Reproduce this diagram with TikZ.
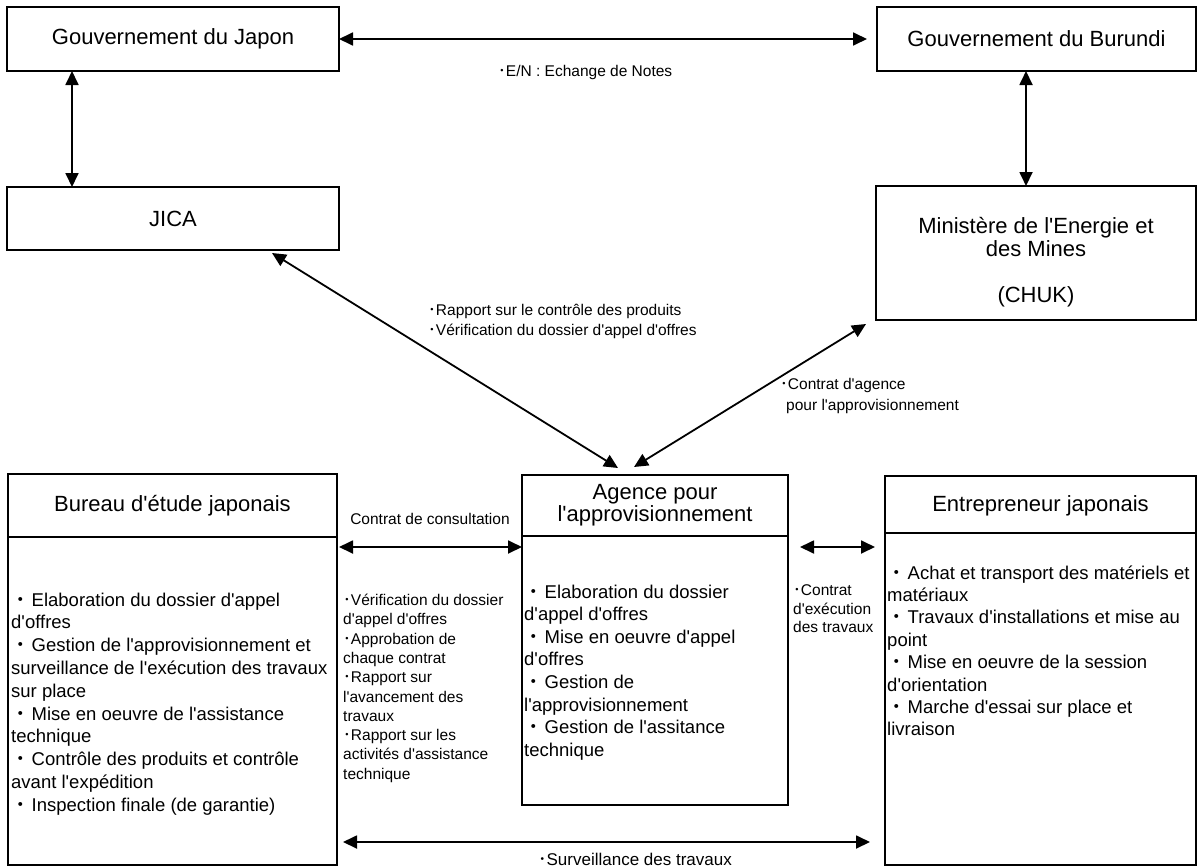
\documentclass[tikz,border=0pt]{standalone}
\usepackage{fontspec}
\setmainfont{Liberation Sans}[Ligatures=TeXOff]
\newfontfamily\cjk{Noto Sans CJK JP}
\usetikzlibrary{arrows.meta}

\newcommand\bul{{\cjk ・}\hspace{2pt}}
\newcommand\sbul{{\cjk ･}}

\begin{document}
\begin{tikzpicture}[x=1pt,y=-1pt,
    box/.style={draw,line width=1.8pt,inner sep=0pt,outer sep=0pt},
    title/.style={font=\fontsize{22}{22}\selectfont,align=center},
    body/.style={font=\fontsize{18.5}{22}\selectfont,anchor=base west,inner sep=0pt},
    lbl/.style={font=\fontsize{15.5}{19}\selectfont,anchor=base west,inner sep=0pt},
    link/.style={line width=1.8pt,{Triangle[length=14pt,width=13pt]}-{Triangle[length=14pt,width=13pt]}}]
    \useasboundingbox (0,0) rectangle (1198,867);

    % top row
    \node[box,title,minimum width=332pt,minimum height=64pt] (japon) at (173,39) {Gouvernement du Japon};
    \node[box,title,minimum width=319pt,minimum height=64pt] (burundi) at (1036.5,39) {Gouvernement du Burundi};
    \node[box,title,minimum width=332pt,minimum height=63pt] (jica) at (173,218.5) {JICA};
    \node[box,minimum width=320pt,minimum height=134pt] (mine) at (1036,253) {};
    \node[title,font=\fontsize{22}{23}\selectfont] (minetxt) at (1036,262) {Minist\`ere de l'Energie et\\des Mines\\[23pt](CHUK)};

    % bottom row
    \node[box,minimum width=329pt,minimum height=391pt] (bureau) at (172.5,669.5) {};
    \node[box,minimum width=266pt,minimum height=330pt] (agence) at (655,640) {};
    \node[box,minimum width=311pt,minimum height=389pt] (entrep) at (1040.5,670.5) {};
    \draw[line width=1.8pt] (bureau.west |- 0,537) -- (bureau.east |- 0,537);
    \draw[line width=1.8pt] (agence.west |- 0,536) -- (agence.east |- 0,536);
    \draw[line width=1.8pt] (entrep.west |- 0,533) -- (entrep.east |- 0,533);
    \node[title] (burtitle) at (172.5,506) {Bureau d'\'etude japonais};
    \node[title] (agtitle) at (655,505) {Agence pour\\l'approvisionnement};
    \node[title] (entitle) at (1040.5,506) {Entrepreneur japonais};

    \foreach \t [count=\i from 0] in {{\bul Elaboration du dossier d'appel},{d'offres},
        {\bul Gestion de l'approvisionnement et},{surveillance de l'ex\'ecution des travaux},
        {sur place},{\bul Mise en oeuvre de l'assistance},{technique},
        {\bul Contr\^ole des produits et contr\^ole},{avant l'exp\'edition},
        {\bul Inspection finale (de garantie)}}
        \node[body] (bur\i) at (11,606+22.8*\i) {\t};

    \foreach \t [count=\i from 0] in {{\bul Elaboration du dossier},{d'appel d'offres},
        {\bul Mise en oeuvre d'appel},{d'offres},{\bul Gestion de},
        {l'approvisionnement},{\bul Gestion de l'assitance},{technique}}
        \node[body] (ag\i) at (524,598+22.6*\i) {\t};

    \foreach \t [count=\i from 0] in {{\bul Achat et transport des mat\'eriels et},{mat\'eriaux},
        {\bul Travaux d'installations et mise au},{point},
        {\bul Mise en oeuvre de la session},{d'orientation},
        {\bul Marche d'essai sur place et},{livraison}}
        \node[body] (en\i) at (887,579+22.4*\i) {\t};

    % labels
    \foreach \t [count=\i from 0] in {{\sbul V\'erification du dossier},{d'appel d'offres},
        {\sbul Approbation de},{chaque contrat},{\sbul Rapport sur},
        {l'avancement des},{travaux},{\sbul Rapport sur les},
        {activit\'es d'assistance},{technique}}
        \node[lbl] (mid\i) at (343,605.5+19.3*\i) {\t};

    \foreach \t [count=\i from 0] in {{\sbul Contrat},{d'ex\'ecution},{des travaux}}
        \node[lbl] (exe\i) at (793,595.5+18.5*\i) {\t};

    \node[lbl] (rap0) at (428,315.5) {\sbul Rapport sur le contr\^ole des produits};
    \node[lbl] (rap1) at (428,335.5) {\sbul V\'erification du dossier d'appel d'offres};
    \node[lbl] (agc0) at (780,389.5) {\sbul Contrat d'agence};
    \node[lbl] (agc1) at (786,410.5) {pour l'approvisionnement};
    \node[lbl] (enote) at (498,77) {\sbul E/N : Echange de Notes};
    \node[lbl,anchor=base] (consult) at (430,524.5) {Contrat de consultation};
    \node[lbl,anchor=base,font=\fontsize{17}{19}\selectfont] (surv) at (635,865) {\sbul Surveillance des travaux};

    % connectors
    \draw[link,shorten >=10pt] (japon.east) -- (burundi.west);
    \draw[link] (japon.south -| 72,0) -- (jica.north -| 72,0);
    \draw[link] (burundi.south -| 1026,0) -- (mine.north -| 1026,0);
    \draw[link] ([xshift=99pt,yshift=-3pt]jica.south) -- ([xshift=-37pt,yshift=7pt]agence.north);
    \draw[link] ([xshift=-170pt,yshift=-4pt]mine.south) -- ([xshift=-21pt,yshift=8pt]agence.north);
    \draw[link,shorten <=2pt] (bureau.east |- 0,547) -- (agence.west |- 0,547);
    \draw[link,shorten <=12pt,shorten >=10pt] (agence.east |- 0,547) -- (entrep.west |- 0,547);
    \draw[link,shorten <=6pt,shorten >=15pt] (bureau.east |- 0,842) -- (entrep.west |- 0,842);
\end{tikzpicture}
\end{document}
